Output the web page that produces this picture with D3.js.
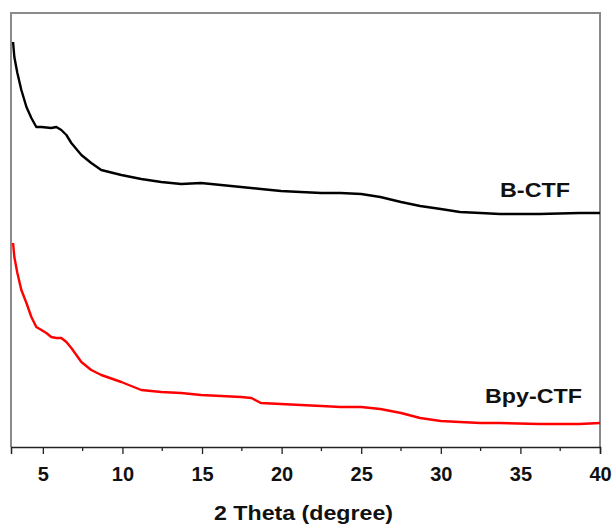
<!DOCTYPE html>
<html>
<head>
<meta charset="utf-8">
<script src="https://cdn.jsdelivr.net/npm/d3@7"></script>
<style>
  html, body { margin: 0; padding: 0; background: #fff; }
  svg { display: block; }
  text { font-family: "Liberation Sans", Arial, sans-serif; font-weight: bold; fill: #111; }
</style>
</head>
<body>
<svg id="chart" width="614" height="528"></svg>
<script>
// 2 Theta (degree) values
const thetaB = [3.13,3.21,3.40,3.65,3.97,4.28,4.59,4.91,5.53,5.85,6.16,6.48,6.79,7.42,8.04,8.67,9.93,11.18,12.44,13.69,14.94,16.2,17.45,18.7,19.96,21.2,22.5,23.7,25.0,26.2,27.5,28.7,30.0,31.2,32.5,33.7,36.2,38.7,40];
// B-CTF intensity (a.u.)
const intensityB = [405,390,374,357,340,329,320,320,319,320,317,312,304,292,284,277,272,268,265,263,264,262,260,258,256,255,254,254,253,250,245,241,238,235,234,233,233,234,234];

const thetaBpy = [3.13,3.21,3.40,3.65,3.97,4.28,4.59,4.91,5.22,5.53,5.85,6.16,6.48,6.79,7.42,8.04,8.67,9.93,11.18,12.44,13.69,14.94,16.2,17.45,18.1,18.7,19.96,21.2,22.5,23.7,25.0,25.6,26.2,27.5,28.7,30.0,31.2,32.5,33.7,36.2,38.7,40];
// Bpy-CTF intensity (a.u.)
const intensityBpy = [204,190,174,157,144,130,120,117,114,110,109,109,105,99,85,77,72,65,57,55,54,52,51,50,49,44,43,42,41,40,40,39,38,34,29,26,25,24,24,23,23,24];

const xTicks = [5,10,15,20,25,30,35,40];
const xMinorTicks = [7.5,12.5,17.5,22.5,27.5,32.5,37.5];
const seriesNames = ["B-CTF","Bpy-CTF"];
const seriesColors = ["#000000","#ff0000"];

const svg = d3.select("#chart");
const mLeft = 11, mRight = 600, mTop = 13, mBottom = 447;

const x = d3.scaleLinear().domain([3, 40]).range([mLeft, mRight]);
const y = d3.scaleLinear().domain([0, 434]).range([mBottom, mTop]);

// frame (top, left, right)
svg.append("path")
  .attr("d", `M${mLeft},${mBottom} V${mTop} H${mRight} V${mBottom}`)
  .attr("fill", "none").attr("stroke", "#8a8a8a").attr("stroke-width", 2);

// x axis
const gx = svg.append("g").attr("transform", `translate(0,${mBottom})`);
gx.call(d3.axisBottom(x).tickValues(xTicks).tickSize(7).tickPadding(4).tickFormat(d3.format("d")))
  .call(g => g.select(".domain").attr("stroke", "#222").attr("stroke-width", 1.5))
  .call(g => g.selectAll(".tick line").attr("stroke", "#222").attr("stroke-width", 1.3))
  .call(g => g.selectAll(".tick text").attr("font-size", 20).attr("font-weight", "bold")
        .attr("font-family", "Liberation Sans, Arial, sans-serif").attr("fill", "#111")
        .attr("dy", null).attr("y", 34));
gx.selectAll(".minor").data(xMinorTicks).enter().append("line")
  .attr("x1", d => x(d)).attr("x2", d => x(d))
  .attr("y1", 0).attr("y2", 4)
  .attr("stroke", "#222").attr("stroke-width", 1.3);

// axis title
svg.append("text")
  .attr("x", 303.5).attr("y", 520)
  .attr("text-anchor", "middle")
  .attr("font-size", 21)
  .attr("textLength", 179).attr("lengthAdjust", "spacingAndGlyphs")
  .text("2 Theta (degree)");

const line = d3.line().x(d => x(d[0])).y(d => y(d[1]));

const dataB = thetaB.map((t, i) => [t, intensityB[i]]);
const dataBpy = thetaBpy.map((t, i) => [t, intensityBpy[i]]);

svg.append("path").datum(dataBpy)
  .attr("d", line).attr("fill", "none")
  .attr("stroke", seriesColors[1]).attr("stroke-width", 2.4)
  .attr("stroke-linejoin", "round");
svg.append("path").datum(dataB)
  .attr("d", line).attr("fill", "none")
  .attr("stroke", seriesColors[0]).attr("stroke-width", 2.4)
  .attr("stroke-linejoin", "round");

// series labels
svg.append("text").attr("x", 500).attr("y", 197)
  .attr("font-size", 20).attr("textLength", 70).attr("lengthAdjust", "spacingAndGlyphs")
  .text(seriesNames[0]);
svg.append("text").attr("x", 485).attr("y", 403)
  .attr("font-size", 20).attr("textLength", 97).attr("lengthAdjust", "spacingAndGlyphs")
  .text(seriesNames[1]);
</script>
</body>
</html>
